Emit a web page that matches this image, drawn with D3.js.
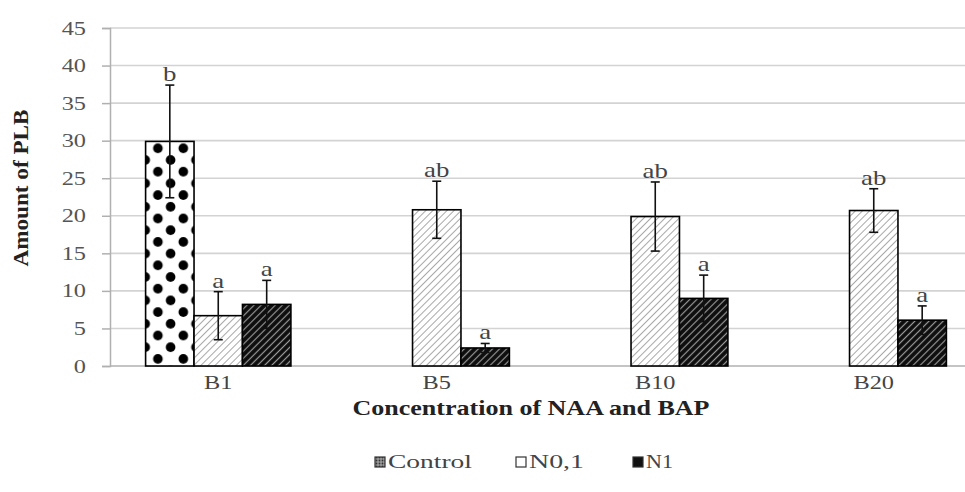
<!DOCTYPE html>
<html><head><meta charset="utf-8">
<script src="https://cdn.jsdelivr.net/npm/d3@7"></script>
<style>body{margin:0;background:#fff} svg{display:block}</style>
</head><body><svg id="c" width="965" height="492"></svg>
<script>
const categories = ["B1","B5","B10","B20"];
const seriesNames = ["Control","N0,1","N1"];
const controlValues = [29.9, null, null, null];
const n01Values = [6.7, 20.8, 19.9, 20.7];
const n1Values = [8.2, 2.4, 9.0, 6.1];
const controlErr = [7.5, null, null, null];
const n01Err = [3.2, 3.8, 4.6, 2.9];
const n1Err = [3.2, 0.6, 3.1, 1.9];
const controlLetters = ["b", null, null, null];
const n01Letters = ["a","ab","ab","ab"];
const n1Letters = ["a","a","a","a"];
const yTicks = [0,5,10,15,20,25,30,35,40,45];
const yTitle = "Amount of PLB";
const xTitle = "Concentration of NAA and BAP";

const seriesValues = [controlValues, n01Values, n1Values];
const seriesErr = [controlErr, n01Err, n1Err];
const seriesLetters = [controlLetters, n01Letters, n1Letters];
const fills = ["url(#dots)", "url(#hatchLight)", "url(#hatchDark)"];

const svg = d3.select("#c");
const FONT = "'Liberation Serif','Times New Roman',serif";
const SX = 1.28;

const x0 = d3.scaleBand().domain(categories).range([109, 983]).paddingInner(0.335).paddingOuter(0.1675);
const x1 = d3.scaleBand().domain(seriesNames).range([0, x0.bandwidth()]);
const y = d3.scaleLinear().domain([0, 45]).range([366, 28]);

// patterns
const defs = svg.append("defs");
const pd = defs.append("pattern").attr("id","dots").attr("patternUnits","userSpaceOnUse")
  .attr("width",25.4).attr("height",23.4).attr("x",145.65).attr("y",154.15);
pd.append("rect").attr("width",25.4).attr("height",23.4).attr("fill","#fff");
pd.append("circle").attr("cx",6.35).attr("cy",5.85).attr("r",4.8).attr("fill","#000");
pd.append("circle").attr("cx",19.05).attr("cy",17.55).attr("r",4.8).attr("fill","#000");

const hl = defs.append("pattern").attr("id","hatchLight").attr("patternUnits","userSpaceOnUse")
  .attr("width",5).attr("height",5).attr("patternTransform","rotate(45)");
hl.append("rect").attr("width",5).attr("height",5).attr("fill","#fff");
hl.append("line").attr("x1",2.5).attr("y1",0).attr("x2",2.5).attr("y2",5).attr("stroke","#a8a8a8").attr("stroke-width",1);

const hd = defs.append("pattern").attr("id","hatchDark").attr("patternUnits","userSpaceOnUse")
  .attr("width",5).attr("height",5).attr("patternTransform","rotate(45)");
hd.append("rect").attr("width",5).attr("height",5).attr("fill","#0d0d0d");
hd.append("line").attr("x1",2.5).attr("y1",0).attr("x2",2.5).attr("y2",5).attr("stroke","#999").attr("stroke-width",1.2);

const lp = defs.append("pattern").attr("id","legCtrl").attr("patternUnits","userSpaceOnUse")
  .attr("width",3).attr("height",3);
lp.append("rect").attr("width",3).attr("height",3).attr("fill","#999");
lp.append("circle").attr("cx",1.5).attr("cy",1.5).attr("r",0.9).attr("fill","#333");

// gridlines
svg.append("g").selectAll("line").data(yTicks.filter(d => d > 0)).join("line")
  .attr("x1",110).attr("x2",990).attr("y1",d=>y(d)).attr("y2",d=>y(d))
  .attr("stroke","#d3d3d3").attr("stroke-width",1.6);

// y axis
const yAxis = d3.axisLeft(y).tickValues(yTicks).tickSize(8).tickPadding(16).tickFormat(d3.format("d"));
const gy = svg.append("g").attr("transform","translate(110,0)").call(yAxis);
gy.select(".domain").attr("stroke","#b0b0b0").attr("stroke-width",1.5);
gy.selectAll(".tick line").attr("stroke","#b0b0b0").attr("stroke-width",1.5);
gy.selectAll(".tick text").attr("font-family",FONT).attr("font-size",19).attr("fill","#555")
  .each(function(){
    const t = d3.select(this);
    const xx = +t.attr("x");
    t.attr("x",0).attr("transform",`translate(${xx},0) scale(${SX},1)`);
  });

// x axis
const xAxis = d3.axisBottom(x0).tickSize(0).tickPadding(0);
const gx = svg.append("g").attr("transform","translate(0,366)").call(xAxis);
gx.select(".domain").attr("d","M110,0H990").attr("stroke","#b0b0b0").attr("stroke-width",1.5);
gx.selectAll(".tick text").attr("font-family",FONT).attr("font-size",19).attr("fill","#444")
  .attr("y",0).attr("dy",0).attr("transform",`translate(0,23) scale(${SX},1)`);

// bars
const groups = svg.append("g").selectAll("g").data(categories).join("g")
  .attr("transform", d => `translate(${x0(d)},0)`);
seriesNames.forEach((s, si) => {
  groups.each(function(c, ci){
    const v = seriesValues[si][ci];
    if (v == null) return;
    const g = d3.select(this);
    g.append("rect").attr("x", x1(s)).attr("width", x1.bandwidth())
      .attr("y", y(v)).attr("height", y(0) - y(v))
      .attr("fill", fills[si]).attr("stroke","#000").attr("stroke-width",1.6);
  });
});
// error bars & letters
seriesNames.forEach((s, si) => {
  groups.each(function(c, ci){
    const v = seriesValues[si][ci];
    if (v == null) return;
    const e = seriesErr[si][ci];
    const g = d3.select(this);
    const cx = x1(s) + x1.bandwidth()/2;
    g.append("line").attr("x1",cx).attr("x2",cx).attr("y1",y(v+e)).attr("y2",y(v-e))
      .attr("stroke","#111").attr("stroke-width",1.6);
    [v+e, v-e].forEach(ev => {
      g.append("line").attr("x1",cx-4.5).attr("x2",cx+4.5).attr("y1",y(ev)).attr("y2",y(ev))
        .attr("stroke","#111").attr("stroke-width",1.6);
    });
    const L = seriesLetters[si][ci];
    if (L) {
      g.append("text").attr("text-anchor","middle")
        .attr("transform",`translate(${cx},${y(v+e)-4}) scale(${SX},1)`)
        .attr("font-family",FONT).attr("font-size",21).attr("fill","#444").text(L);
    }
  });
});

// axis titles
svg.append("text").attr("transform","translate(28,188) rotate(-90)")
  .attr("text-anchor","middle").attr("font-family",FONT).attr("font-weight","bold")
  .attr("font-size",20).attr("fill","#222").attr("textLength",157).attr("lengthAdjust","spacingAndGlyphs")
  .text(yTitle);
svg.append("text").attr("x",531).attr("y",415)
  .attr("text-anchor","middle").attr("font-family",FONT).attr("font-weight","bold")
  .attr("font-size",21).attr("fill","#222").attr("textLength",357).attr("lengthAdjust","spacingAndGlyphs")
  .text(xTitle);

// legend
const legX = [375, 516, 633];
const legTextW = [84, 55, 27];
const legFills = ["url(#legCtrl)", "#fff", "#111"];
const legY = 462;
const lg = svg.append("g").selectAll("g").data(seriesNames).join("g");
lg.append("rect").attr("x",(d,i)=>legX[i]).attr("y",legY-5).attr("width",10).attr("height",10)
  .attr("fill",(d,i)=>legFills[i]).attr("stroke","#333").attr("stroke-width",1.2);
lg.append("text").attr("x",(d,i)=>legX[i]+13).attr("y",legY+6)
  .attr("font-family",FONT).attr("font-size",19).attr("fill","#444")
  .attr("textLength",(d,i)=>legTextW[i]).attr("lengthAdjust","spacingAndGlyphs")
  .text(d=>d);
</script></body></html>
